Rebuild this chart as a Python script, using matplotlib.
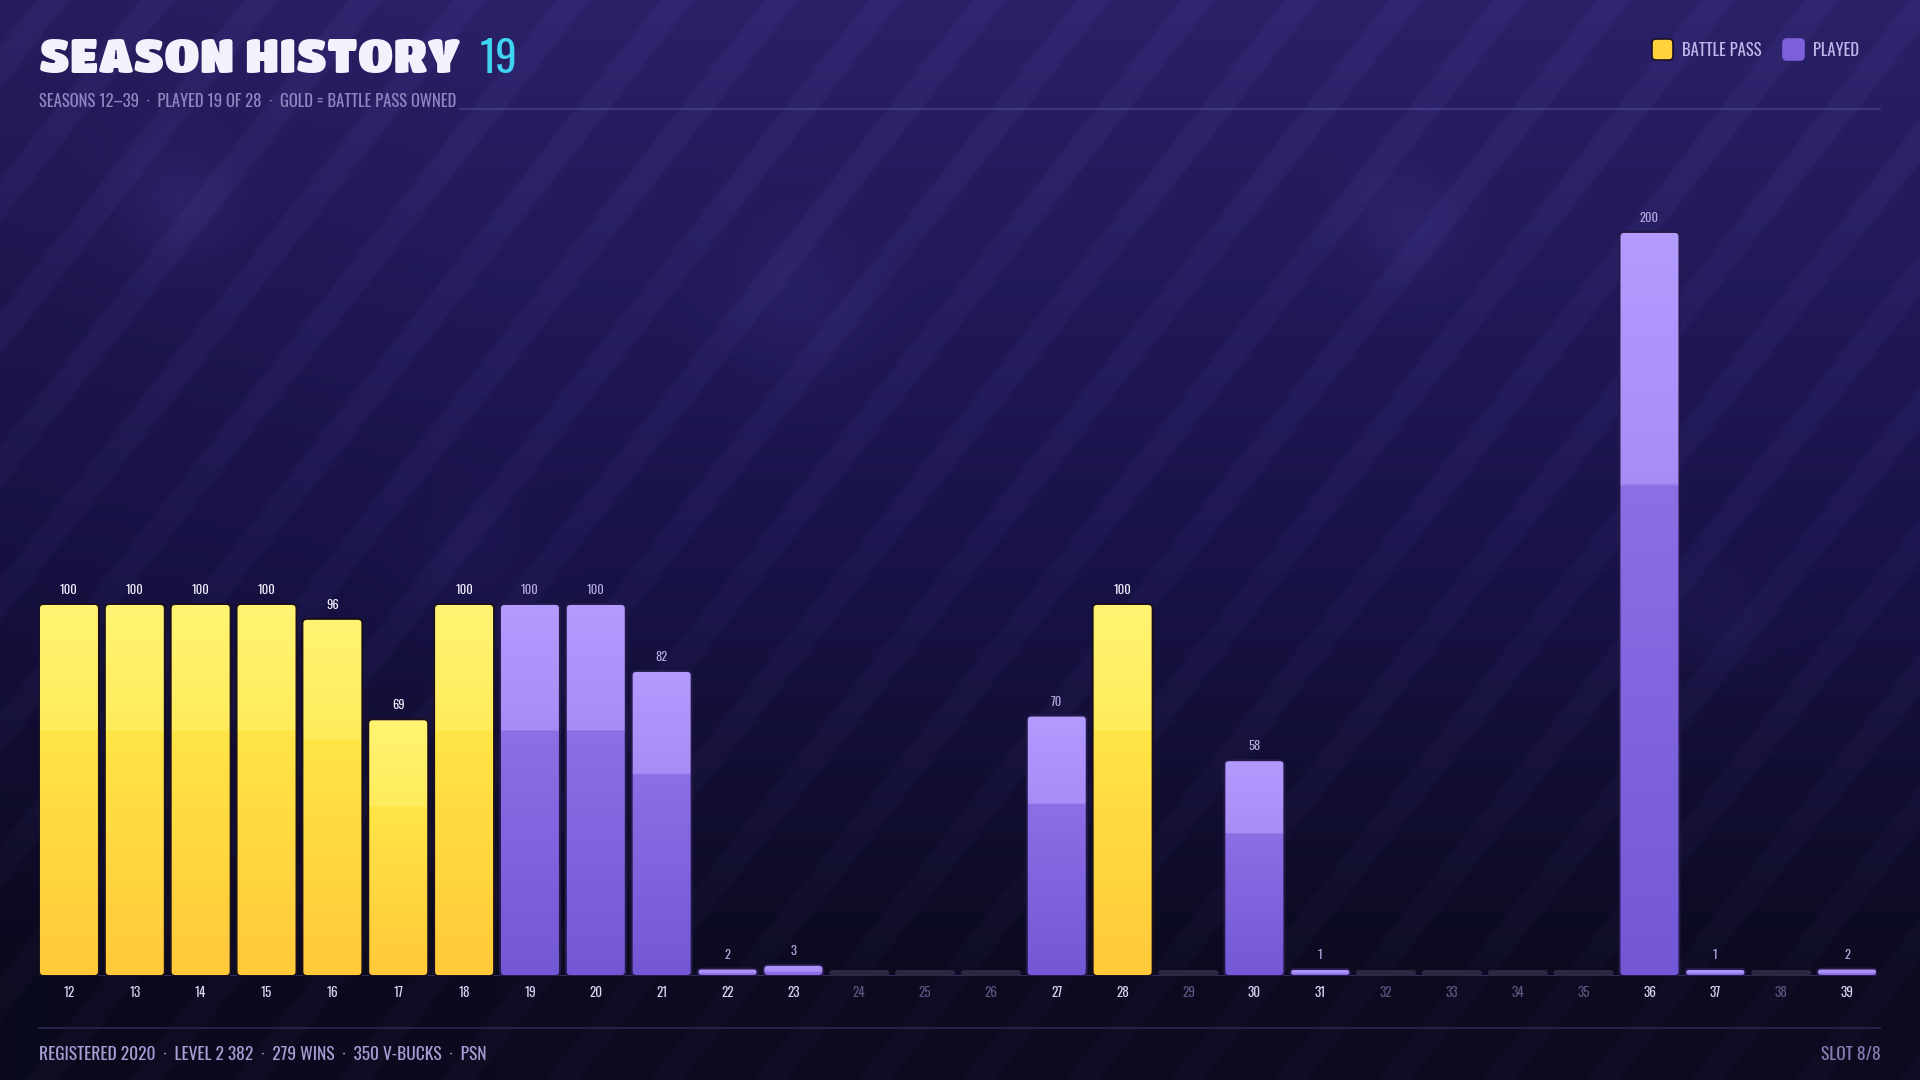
import matplotlib
matplotlib.use("Agg")
import numpy as np
import matplotlib.pyplot as plt
from matplotlib.patches import FancyBboxPatch
from matplotlib.colors import to_rgb

# --- data -------------------------------------------------------------
seasons = list(range(12, 40))
levels = [100, 100, 100, 100, 96, 69, 100, 100, 100, 82, 2, 3, 0, 0, 0, 70, 100, 0, 58, 1,
          0, 0, 0, 0, 200, 1, 0, 2]
battle_pass = [1, 1, 1, 1, 1, 1, 1, 0, 0, 0, 0, 0, 0, 0, 0, 0, 1, 0, 0, 0,
               0, 0, 0, 0, 0, 0, 0, 0]

title = "SEASON HISTORY"
played_count = "19"
subtitle = "SEASONS 12–39  ·  PLAYED 19 OF 28  ·  GOLD = BATTLE PASS OWNED"
footer_left = "REGISTERED 2020  ·  LEVEL 2 382  ·  279 WINS  ·  350 V-BUCKS  ·  PSN"
footer_right = "SLOT 8/8"
legend_labels = ["BATTLE PASS", "PLAYED"]

W, H = 1920, 1080
COND = "Oswald"
YEL = ["#ffc93a", "#ffe546", "#ffec5c", "#fff473"]   # bottom, mid-low, mid-high, top
PUR = ["#7357d5", "#8c6fe5", "#a78cf5", "#b49bff"]


def bar_gradient(stops, split=0.66, n=256):
    t = np.linspace(0, 1, n)
    c = [np.array(to_rgb(s)) for s in stops]
    out = np.zeros((n, 3))
    lo = t <= split
    a = (t[lo] / split)[:, None]
    out[lo] = c[0] * (1 - a) + c[1] * a
    b = ((t[~lo] - split) / (1 - split))[:, None]
    out[~lo] = c[2] * (1 - b) + c[3] * b
    return out[::-1][:, None, :]  # top row first


fig = plt.figure(figsize=(19.2, 10.8), dpi=100)

# --- background: gradient, stripes, soft glows -------------------------
yy, xx = np.mgrid[0:H, 0:W].astype(float)
top = np.array(to_rgb("#2a2067"))
mid = np.array(to_rgb("#19134a"))
bot = np.array(to_rgb("#0b0a1f"))
fy = yy / H
k1 = np.clip(fy / 0.5, 0, 1)[..., None]
k2 = np.clip((fy - 0.5) / 0.4, 0, 1)[..., None]
bg = top * (1 - k1) + mid * k1
bg = bg * (1 - k2) + bot * k2
bg *= (0.9 + 0.1 * np.clip(xx / 500, 0, 1))[..., None]

ang = np.deg2rad(52)
proj = xx * np.sin(ang) + yy * np.cos(ang)
period = 82.0
phase = (proj % period) / period
stripe = np.clip((0.16 - np.abs(phase - 0.5)) / 0.05 + 0.5, 0, 1)
bg += stripe[..., None] * np.array([0.026, 0.024, 0.040]) * (1 - 0.45 * fy)[..., None]

for gx, gy, gr, gs in [(178, 202, 55, 0.045), (796, 300, 70, 0.035), (1406, 226, 55, 0.04),
                       (1714, 612, 50, 0.03), (470, 560, 60, 0.02)]:
    d2 = ((xx - gx) ** 2 + (yy - gy) ** 2) / gr ** 2
    bg += np.exp(-d2)[..., None] * np.array([gs * 0.8, gs * 0.7, gs * 1.4])
bg = np.clip(bg, 0, 1)

bax = fig.add_axes([0, 0, 1, 1])
bax.imshow(bg, extent=(0, W, H, 0), aspect="auto", interpolation="bilinear")
bax.set_xlim(0, W)
bax.set_ylim(H, 0)
bax.axis("off")

# --- header -------------------------------------------------------------
t1 = fig.text(39 / W, 1 - 73 / H, title, family="Titan One", fontsize=34,
              color="#f3f1fb", va="baseline", ha="left")
fig.canvas.draw()
ext = t1.get_window_extent()
fig.text((ext.x1 + 19) / W, 1 - 73 / H, played_count, family=COND, fontsize=31,
         color="#3fd4f1", va="baseline", ha="left")
st = fig.text(39 / W, 1 - 107 / H, subtitle, family=COND, fontsize=12,
              color="#8f87c2", va="baseline", ha="left")
fig.canvas.draw()
sx = st.get_window_extent().x1
bax.plot([sx + 4, 1880], [109, 109], color="#5c52a0", lw=1.2, alpha=0.55)

# legend
lx = [1652, 1783]
lcol = ["#ffd23e", "#7b60da"]
ledge = ["#1a1024", "#7b60da"]
for x0, col, ec, lab in zip(lx, lcol, ledge, legend_labels):
    sq = FancyBboxPatch((x0, 39), 21, 21, boxstyle="round,pad=0,rounding_size=4",
                        facecolor=col, edgecolor=ec, lw=1.2)
    bax.add_patch(sq)
    bax.text(x0 + 30, 50, lab, family=COND, fontsize=12, color="#bfb7ea",
             va="center", ha="left")

# footer
bax.plot([39, 1880], [1028, 1028], color="#2c2650", lw=1.2)
bax.text(39, 1054, footer_left, family=COND, fontsize=12.5, color="#a69ed4",
         va="center", ha="left")
bax.text(1881, 1054, footer_right, family=COND, fontsize=12.5, color="#857db3",
         va="center", ha="right")

# --- bars ---------------------------------------------------------------
ax = fig.add_axes([39 / W, 104 / H, 1838 / W, 837 / H])
ax.patch.set_alpha(0)
n = len(seasons)
xlo, xhi = -0.455, n - 1 + 0.455
ylo, yhi = 0, 225
px_x = 1838 / (xhi - xlo)
px_y = 837 / (yhi - ylo)
asp = px_x / px_y
bw = 0.91
rad = 4.5 / px_x
min_h = 7.0 / px_y
empty_h = 6.0 / px_y

grads = {1: bar_gradient(YEL), 0: bar_gradient(PUR)}

ax.axhline(0, color="#3a3468", lw=1.2, zorder=1)
for i, (v, bp) in enumerate(zip(levels, battle_pass)):
    x0 = i - bw / 2
    if v <= 0:
        h = empty_h
        r = min(rad, h / asp / 2)
        p = FancyBboxPatch((x0, 0), bw, h, boxstyle=f"round,pad=0,rounding_size={r}",
                           mutation_aspect=asp, facecolor="#2c2843", edgecolor="none", zorder=2)
        ax.add_patch(p)
        continue
    h = max(v, min_h)
    r = min(rad, h / asp / 2)
    clip = FancyBboxPatch((x0, 0), bw, h, boxstyle=f"round,pad=0,rounding_size={r}",
                          mutation_aspect=asp, facecolor="none", edgecolor="none")
    ax.add_patch(clip)
    g = grads[bp] if h > 10 else grads[bp][int(256 * 0.05):int(256 * 0.5)]
    im = ax.imshow(g, extent=(x0, x0 + bw, 0, h), aspect="auto", zorder=2,
                   interpolation="bilinear")
    im.set_clip_path(clip)
    edge = "#1a0f1c" if bp else "#241a4a"
    ax.add_patch(FancyBboxPatch((x0, 0), bw, h, boxstyle=f"round,pad=0,rounding_size={r}",
                                mutation_aspect=asp, facecolor="none", edgecolor=edge,
                                lw=1.4, zorder=3))
    ax.text(i, h + 8 / px_y, str(v), family=COND, fontsize=9,
            color="#f4f1ff" if bp else "#b3aae0", ha="center", va="bottom", zorder=4)

ax.set_xlim(xlo, xhi)
ax.set_ylim(ylo, yhi)
ax.set_xticks(range(n))
ax.set_xticklabels([str(s) for s in seasons], family=COND, fontsize=9.5)
for lab, v in zip(ax.get_xticklabels(), levels):
    lab.set_color("#d9d3f6" if v > 0 else "#5b5580")
ax.tick_params(axis="x", length=0, pad=7)
ax.set_yticks([])
for s in ax.spines.values():
    s.set_visible(False)

fig.savefig("out.png", dpi=100)
